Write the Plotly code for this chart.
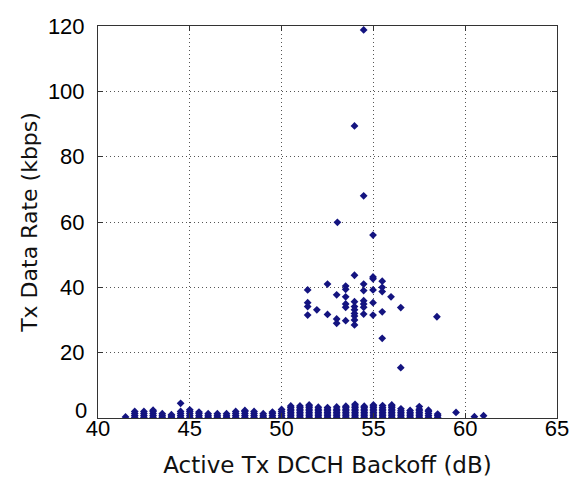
import plotly.graph_objects as go

# Upper cluster / outliers (Backoff dB, Rate kbps)
high_backoff = [54.47, 53.97, 54.47, 53.04, 54.98, 53.97, 54.98, 55.48,
                52.5, 53.49, 53.49, 54.47, 54.47, 54.98, 55.48, 55.48,
                51.42, 53.0, 53.49, 55.96, 51.42, 51.42, 51.42, 51.92,
                52.5, 53.0, 53.0, 53.49, 53.49, 53.49,
                53.97, 53.97, 53.97, 53.97, 53.97, 53.97, 53.97,
                54.47, 54.47, 54.47, 54.47, 54.98, 54.98, 55.48,
                56.49, 58.46, 55.48, 56.49, 54.98]
high_rate = [118.8, 89.4, 68.0, 59.9, 56.0, 43.7, 42.6, 41.9,
             41.0, 40.4, 39.4, 41.0, 39.0, 39.2, 40.0, 38.7,
             39.2, 37.7, 37.1, 37.1, 35.3, 34.1, 31.5, 33.1,
             31.7, 30.3, 29.0, 34.9, 33.9, 29.8,
             35.6, 34.1, 33.1, 32.0, 31.2, 30.0, 28.5,
             35.9, 34.9, 33.9, 31.8, 35.3, 31.5, 32.5,
             33.8, 31.0, 24.4, 15.4, 43.2]

# Low-rate stacks: one backoff value per column, explicit rate values per column
low_backoff = [41.5, 42.0, 42.5, 43.0, 43.5, 44.0, 44.5, 45.0, 45.5, 46.0,
               46.5, 47.0, 47.5, 48.0, 48.5, 49.0, 49.5, 50.0, 50.5, 51.0,
               51.5, 52.0, 52.5, 53.0, 53.5, 54.0, 54.5, 55.0, 55.5, 56.0,
               56.5, 57.0, 57.5, 58.0, 58.5, 59.5, 60.5, 61.0]
low_rates = [
    [0.3],
    [0.2, 0.8, 1.4, 2.0],
    [0.2, 0.8, 1.4, 2.0],
    [0.2, 0.8, 1.4, 2.0, 2.4],
    [0.2, 0.7, 1.3],
    [0.2, 0.6, 1.0],
    [0.2, 0.8, 1.4, 2.0, 4.5],
    [0.2, 0.8, 1.4, 2.0, 2.5],
    [0.2, 0.8, 1.4, 1.8],
    [0.2, 0.7, 1.3],
    [0.2, 0.7, 1.3],
    [0.2, 0.7, 1.3],
    [0.2, 0.8, 1.4, 2.0],
    [0.2, 0.8, 1.4, 2.0, 2.3],
    [0.2, 0.8, 1.4, 2.0],
    [0.2, 0.7, 1.3],
    [0.2, 0.8, 1.4, 1.8],
    [0.2, 0.8, 1.4, 2.0, 2.6],
    [0.2, 0.7, 1.2, 1.7, 2.2, 2.7, 3.2, 3.7],
    [0.2, 0.7, 1.2, 1.7, 2.2, 2.7, 3.2, 3.7],
    [0.2, 0.7, 1.2, 1.7, 2.2, 2.7, 3.2, 3.7, 4.0],
    [0.2, 0.7, 1.2, 1.7, 2.2, 2.7, 3.3],
    [0.2, 0.7, 1.2, 1.7, 2.2, 2.7, 3.2],
    [0.2, 0.7, 1.2, 1.7, 2.2, 2.7, 3.4],
    [0.2, 0.7, 1.2, 1.7, 2.2, 2.7, 3.2, 3.6],
    [0.2, 0.7, 1.2, 1.7, 2.2, 2.7, 3.2, 3.7, 4.2],
    [0.2, 0.7, 1.2, 1.7, 2.2, 2.7, 3.2, 3.6],
    [0.2, 0.7, 1.2, 1.7, 2.2, 2.7, 3.2, 3.7, 4.0],
    [0.2, 0.7, 1.2, 1.7, 2.2, 2.7, 3.2, 3.8],
    [0.2, 0.7, 1.2, 1.7, 2.2, 2.7, 3.2, 3.7, 4.0],
    [0.2, 0.7, 1.2, 1.7, 2.2, 2.8],
    [0.2, 0.7, 1.2, 1.7, 2.3],
    [0.2, 0.7, 1.2, 1.7, 2.2, 2.7, 3.5],
    [0.2, 0.8, 1.4, 2.0, 2.4],
    [0.2, 0.8, 1.2],
    [1.7],
    [0.4],
    [0.7],
]

x_ticks = [40, 45, 50, 55, 60, 65]
y_ticks = [0, 20, 40, 60, 80, 100, 120]

xs = list(high_backoff)
ys = list(high_rate)
for bx, col in zip(low_backoff, low_rates):
    for r in col:
        xs.append(bx)
        ys.append(r)

fig = go.Figure()
fig.add_trace(go.Scatter(
    x=xs, y=ys, mode="markers",
    marker=dict(symbol="diamond", size=6, color="#141480",
                line=dict(width=0)),
    showlegend=False,
))

tick_font = "Liberation Sans, Arial, sans-serif"
title_font = "DejaVu Sans, sans-serif"
axis_common = dict(
    showline=True, linecolor="#333", linewidth=1, mirror="ticks",
    ticks="inside", ticklen=5, tickcolor="#333",
    showgrid=True, gridcolor="#555", gridwidth=1, griddash="1px,3px",
    zeroline=False,
    tickfont=dict(family=tick_font, size=22, color="black"),
)
fig.update_xaxes(range=[40, 65], tickvals=x_ticks, ticktext=[str(v) for v in x_ticks],
                 ticklabelstandoff=-9,
                 title=dict(text="Active Tx DCCH Backoff (dB)",
                            font=dict(family=title_font, size=23, color="#111"),
                            standoff=16),
                 **axis_common)
# the "0" label of the y axis sits raised above the corner, as in the source figure
y_ticktext = ["" if v == 0 else str(v) for v in y_ticks]
fig.update_yaxes(range=[0, 120], tickvals=y_ticks, ticktext=y_ticktext,
                 ticklabelstandoff=8,
                 title=dict(text="Tx Data Rate (kbps)",
                            font=dict(family=title_font, size=22, color="#111"),
                            standoff=4),
                 **axis_common)
fig.add_annotation(x=0, xref="paper", y=y_ticks[0], yref="y",
                   text=str(y_ticks[0]), showarrow=False,
                   xanchor="right", yanchor="middle", xshift=-9, yshift=8,
                   font=dict(family=tick_font, size=22, color="black"))
fig.update_layout(
    width=581, height=493,
    margin=dict(l=98, r=19, t=26, b=75),
    paper_bgcolor="white", plot_bgcolor="white",
)
fig.write_html("out.html", config={"displayModeBar": False},
               post_script="document.body.style.margin='0';")
